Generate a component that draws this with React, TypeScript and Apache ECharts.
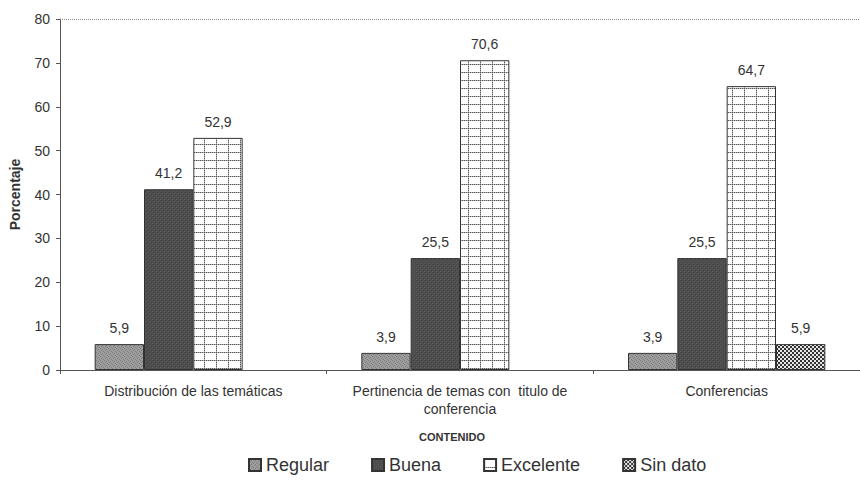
import React, { useEffect, useRef } from "react";
import * as echarts from "echarts";

const categories = [
  "Distribución de las temáticas",
  "Pertinencia de temas con  titulo de\nconferencia",
  "Conferencias",
];
const seriesNames = ["Regular", "Buena", "Excelente", "Sin dato"];
const regular = [5.9, 3.9, 3.9];
const buena = [41.2, 25.5, 25.5];
const excelente = [52.9, 70.6, 64.7];
const sinDato: (number | null)[] = [null, null, 5.9];
const yTicks = { min: 0, max: 80, interval: 10 };

function makeCanvas(w: number, h: number, draw: (ctx: CanvasRenderingContext2D) => void) {
  const c = document.createElement("canvas");
  c.width = w;
  c.height = h;
  const ctx = c.getContext("2d")!;
  draw(ctx);
  return c;
}

function patterns() {
  const reg = makeCanvas(4, 4, (ctx) => {
    ctx.fillStyle = "#9e9e9e";
    ctx.fillRect(0, 0, 4, 4);
    ctx.fillStyle = "#7c7c7c";
    ctx.fillRect(0, 0, 1, 1);
    ctx.fillRect(2, 1, 1, 1);
    ctx.fillRect(1, 2, 1, 1);
    ctx.fillRect(3, 3, 1, 1);
  });
  const bue = makeCanvas(4, 4, (ctx) => {
    ctx.fillStyle = "#4e4e4e";
    ctx.fillRect(0, 0, 4, 4);
    ctx.fillStyle = "#444";
    ctx.fillRect(1, 0, 1, 1);
    ctx.fillRect(3, 2, 1, 1);
    ctx.fillStyle = "#5a5a5a";
    ctx.fillRect(0, 3, 1, 1);
    ctx.fillRect(2, 1, 1, 1);
  });
  const exc = makeCanvas(12, 8, (ctx) => {
    ctx.fillStyle = "#ffffff";
    ctx.fillRect(0, 0, 12, 8);
    for (let x = 0; x < 12; x++) {
      ctx.fillStyle = x % 2 === 0 ? "#555555" : "#b0b0b0";
      ctx.fillRect(x, 0, 1, 1);
    }
    for (let y = 1; y < 8; y++) {
      ctx.fillStyle = y % 2 === 0 ? "#555555" : "#b0b0b0";
      ctx.fillRect(0, y, 1, 1);
    }
  });
  const sin = makeCanvas(4, 4, (ctx) => {
    ctx.fillStyle = "#e6e6e6";
    ctx.fillRect(0, 0, 4, 4);
    ctx.fillStyle = "#333333";
    ctx.fillRect(0, 0, 2, 2);
    ctx.fillRect(2, 2, 2, 2);
  });
  return [reg, bue, exc, sin];
}

export default function App() {
  const ref = useRef<HTMLDivElement>(null);
  useEffect(() => {
    if (!ref.current) return;
    const chart = echarts.init(ref.current, undefined, { renderer: "svg" });
    const pats = patterns();
    const datas = [regular, buena, excelente, sinDato];
    const font = "'Liberation Sans', Arial, sans-serif";
    const series = datas.map((d, i) => ({
      name: seriesNames[i],
      type: "bar",
      data: d,
      barGap: "0%",
      barCategoryGap: "26%",
      itemStyle: {
        color: { image: pats[i], repeat: "repeat" },
        borderColor: "#333",
        borderWidth: 1,
      },
      label: {
        show: true,
        position: "top",
        distance: 9,
        color: "#333",
        fontSize: 14,
        fontFamily: font,
        formatter: (p: any) => String(p.value).replace(".", ","),
      },
      markLine:
        i === 0
          ? {
              silent: true,
              symbol: "none",
              label: { show: false },
              lineStyle: { color: "#888", type: "dotted", width: 1 },
              data: [{ yAxis: yTicks.max }],
            }
          : undefined,
    }));
    chart.setOption({
      animation: false,
      backgroundColor: "#ffffff",
      textStyle: { fontFamily: font },
      grid: { left: 57, right: 0, top: 19, bottom: 110, containLabel: false },
      legend: {
        data: seriesNames,
        left: 243,
        top: 451,
        itemWidth: 12,
        itemHeight: 12,
        itemGap: 42,
        textStyle: { fontSize: 18, color: "#333", fontFamily: font },
        icon: "rect",
      },
      xAxis: {
        type: "category",
        data: categories,
        name: "CONTENIDO",
        nameLocation: "middle",
        nameGap: 61,
        nameTextStyle: { fontWeight: "bold", fontSize: 11, color: "#333", padding: [0, 16, 0, 0] },
        axisLine: { lineStyle: { color: "#555", width: 1 } },
        axisTick: { show: true, length: 4, lineStyle: { color: "#555" } },
        axisLabel: { color: "#333", fontSize: 14, margin: 12, lineHeight: 18, interval: 0 },
      },
      yAxis: {
        type: "value",
        min: yTicks.min,
        max: yTicks.max,
        interval: yTicks.interval,
        name: "Porcentaje",
        nameLocation: "middle",
        nameGap: 38,
        nameTextStyle: { fontWeight: "bold", fontSize: 14, color: "#333" },
        axisLine: { show: true, lineStyle: { color: "#555", width: 1 } },
        axisTick: { show: true, length: 4, lineStyle: { color: "#555" } },
        axisLabel: { color: "#333", fontSize: 14, margin: 10 },
        splitLine: { show: false },
      },
      series,
    });
    return () => chart.dispose();
  }, []);
  return (
    <div
      ref={ref}
      style={{ position: "fixed", left: 0, top: 0, width: 860, height: 480, background: "#fff" }}
    />
  );
}
